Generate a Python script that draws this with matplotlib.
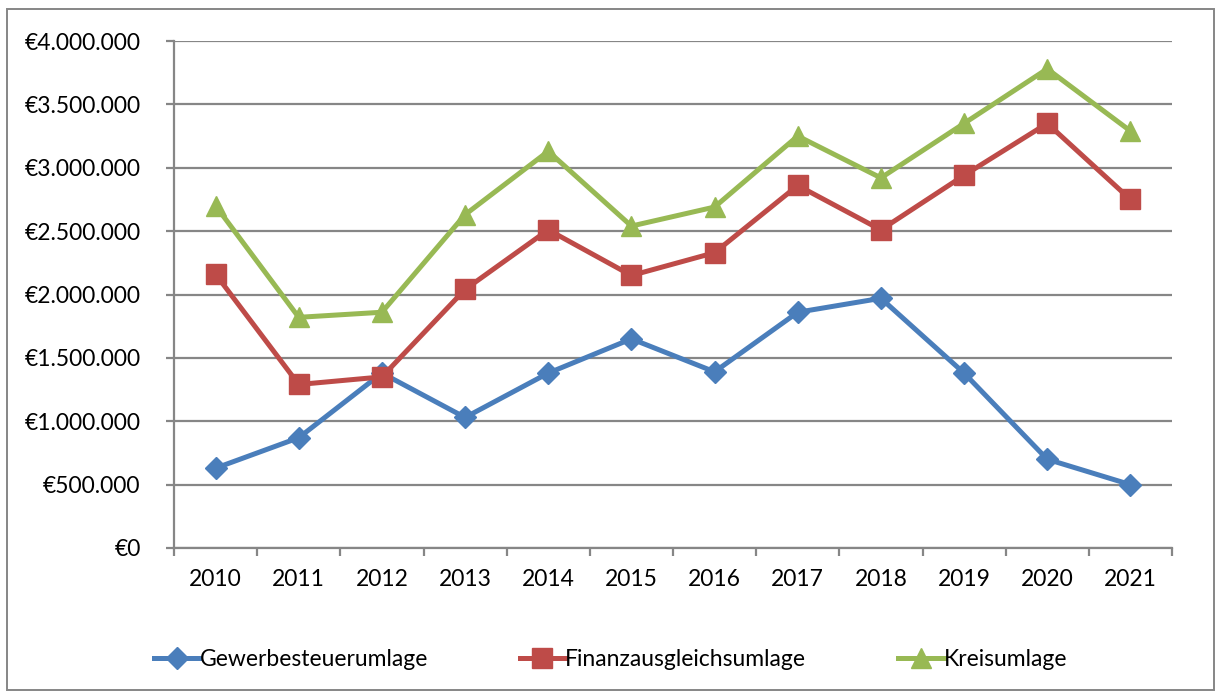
import matplotlib
matplotlib.use("Agg")
import matplotlib.pyplot as plt
from matplotlib.ticker import FuncFormatter, FixedLocator
from matplotlib.patches import Rectangle

years = ["2010", "2011", "2012", "2013", "2014", "2015",
         "2016", "2017", "2018", "2019", "2020", "2021"]
gewerbe = [630000, 870000, 1380000, 1030000, 1380000, 1650000,
           1390000, 1860000, 1970000, 1380000, 700000, 500000]
finanz = [2160000, 1290000, 1350000, 2040000, 2510000, 2150000,
          2330000, 2860000, 2510000, 2940000, 3350000, 2750000]
kreis = [2700000, 1820000, 1860000, 2630000, 3130000, 2540000,
         2690000, 3250000, 2920000, 3350000, 3780000, 3290000]
labels = ["Gewerbesteuerumlage", "Finanzausgleichsumlage", "Kreisumlage"]

plt.rcParams['font.family'] = ['Lato', 'DejaVu Sans']

fig = plt.figure(figsize=(12.21, 6.95), dpi=100)
ax = fig.add_axes([174/1221, 1-548/695, (1172-174)/1221, (548-41)/695])

x = list(range(len(years)))
ax.plot(x, gewerbe, color="#4A7EBB", lw=3.6, marker="D", ms=11.5, label=labels[0])
ax.plot(x, finanz, color="#BE4B48", lw=3.6, marker="s", ms=14, label=labels[1])
ax.plot(x, kreis, color="#98B954", lw=3.6, marker="^", ms=15, label=labels[2])

ax.set_xlim(-0.5, len(years)-0.5)
ax.set_ylim(0, 4000000)
ax.set_yticks(range(0, 4000001, 500000))
ax.yaxis.set_major_formatter(FuncFormatter(lambda v, p: "€" + "{:,.0f}".format(v).replace(",", ".")))
ax.set_xticks(x)
ax.set_xticklabels(years)
ax.xaxis.set_minor_locator(FixedLocator([i - 0.5 for i in range(len(years)+1)]))

grey = "#868686"
fs = 16.5
ax.grid(axis="y", color=grey, lw=1.6)
ax.set_axisbelow(True)
for s in ["top", "right"]:
    ax.spines[s].set_visible(False)
for s in ["left", "bottom"]:
    ax.spines[s].set_color(grey)
    ax.spines[s].set_linewidth(1.6)
ax.tick_params(axis="y", length=6, width=1.6, color=grey, pad=18, labelsize=fs)
ax.tick_params(axis="x", which="major", length=0, pad=15, labelsize=fs)
ax.tick_params(axis="x", which="minor", length=6, width=1.6, color=grey)

fig.legend(loc="center", bbox_to_anchor=(0.5, 1-660/695), ncol=3, frameon=False,
           fontsize=fs, handlelength=2.0, columnspacing=4.0, handletextpad=0.0)

fig.patches.append(Rectangle((7/1221, 1-690/695), 1207/1221, 681/695, transform=fig.transFigure,
                             fill=False, edgecolor=grey, lw=1.4))

fig.savefig("out.png", dpi=100)
